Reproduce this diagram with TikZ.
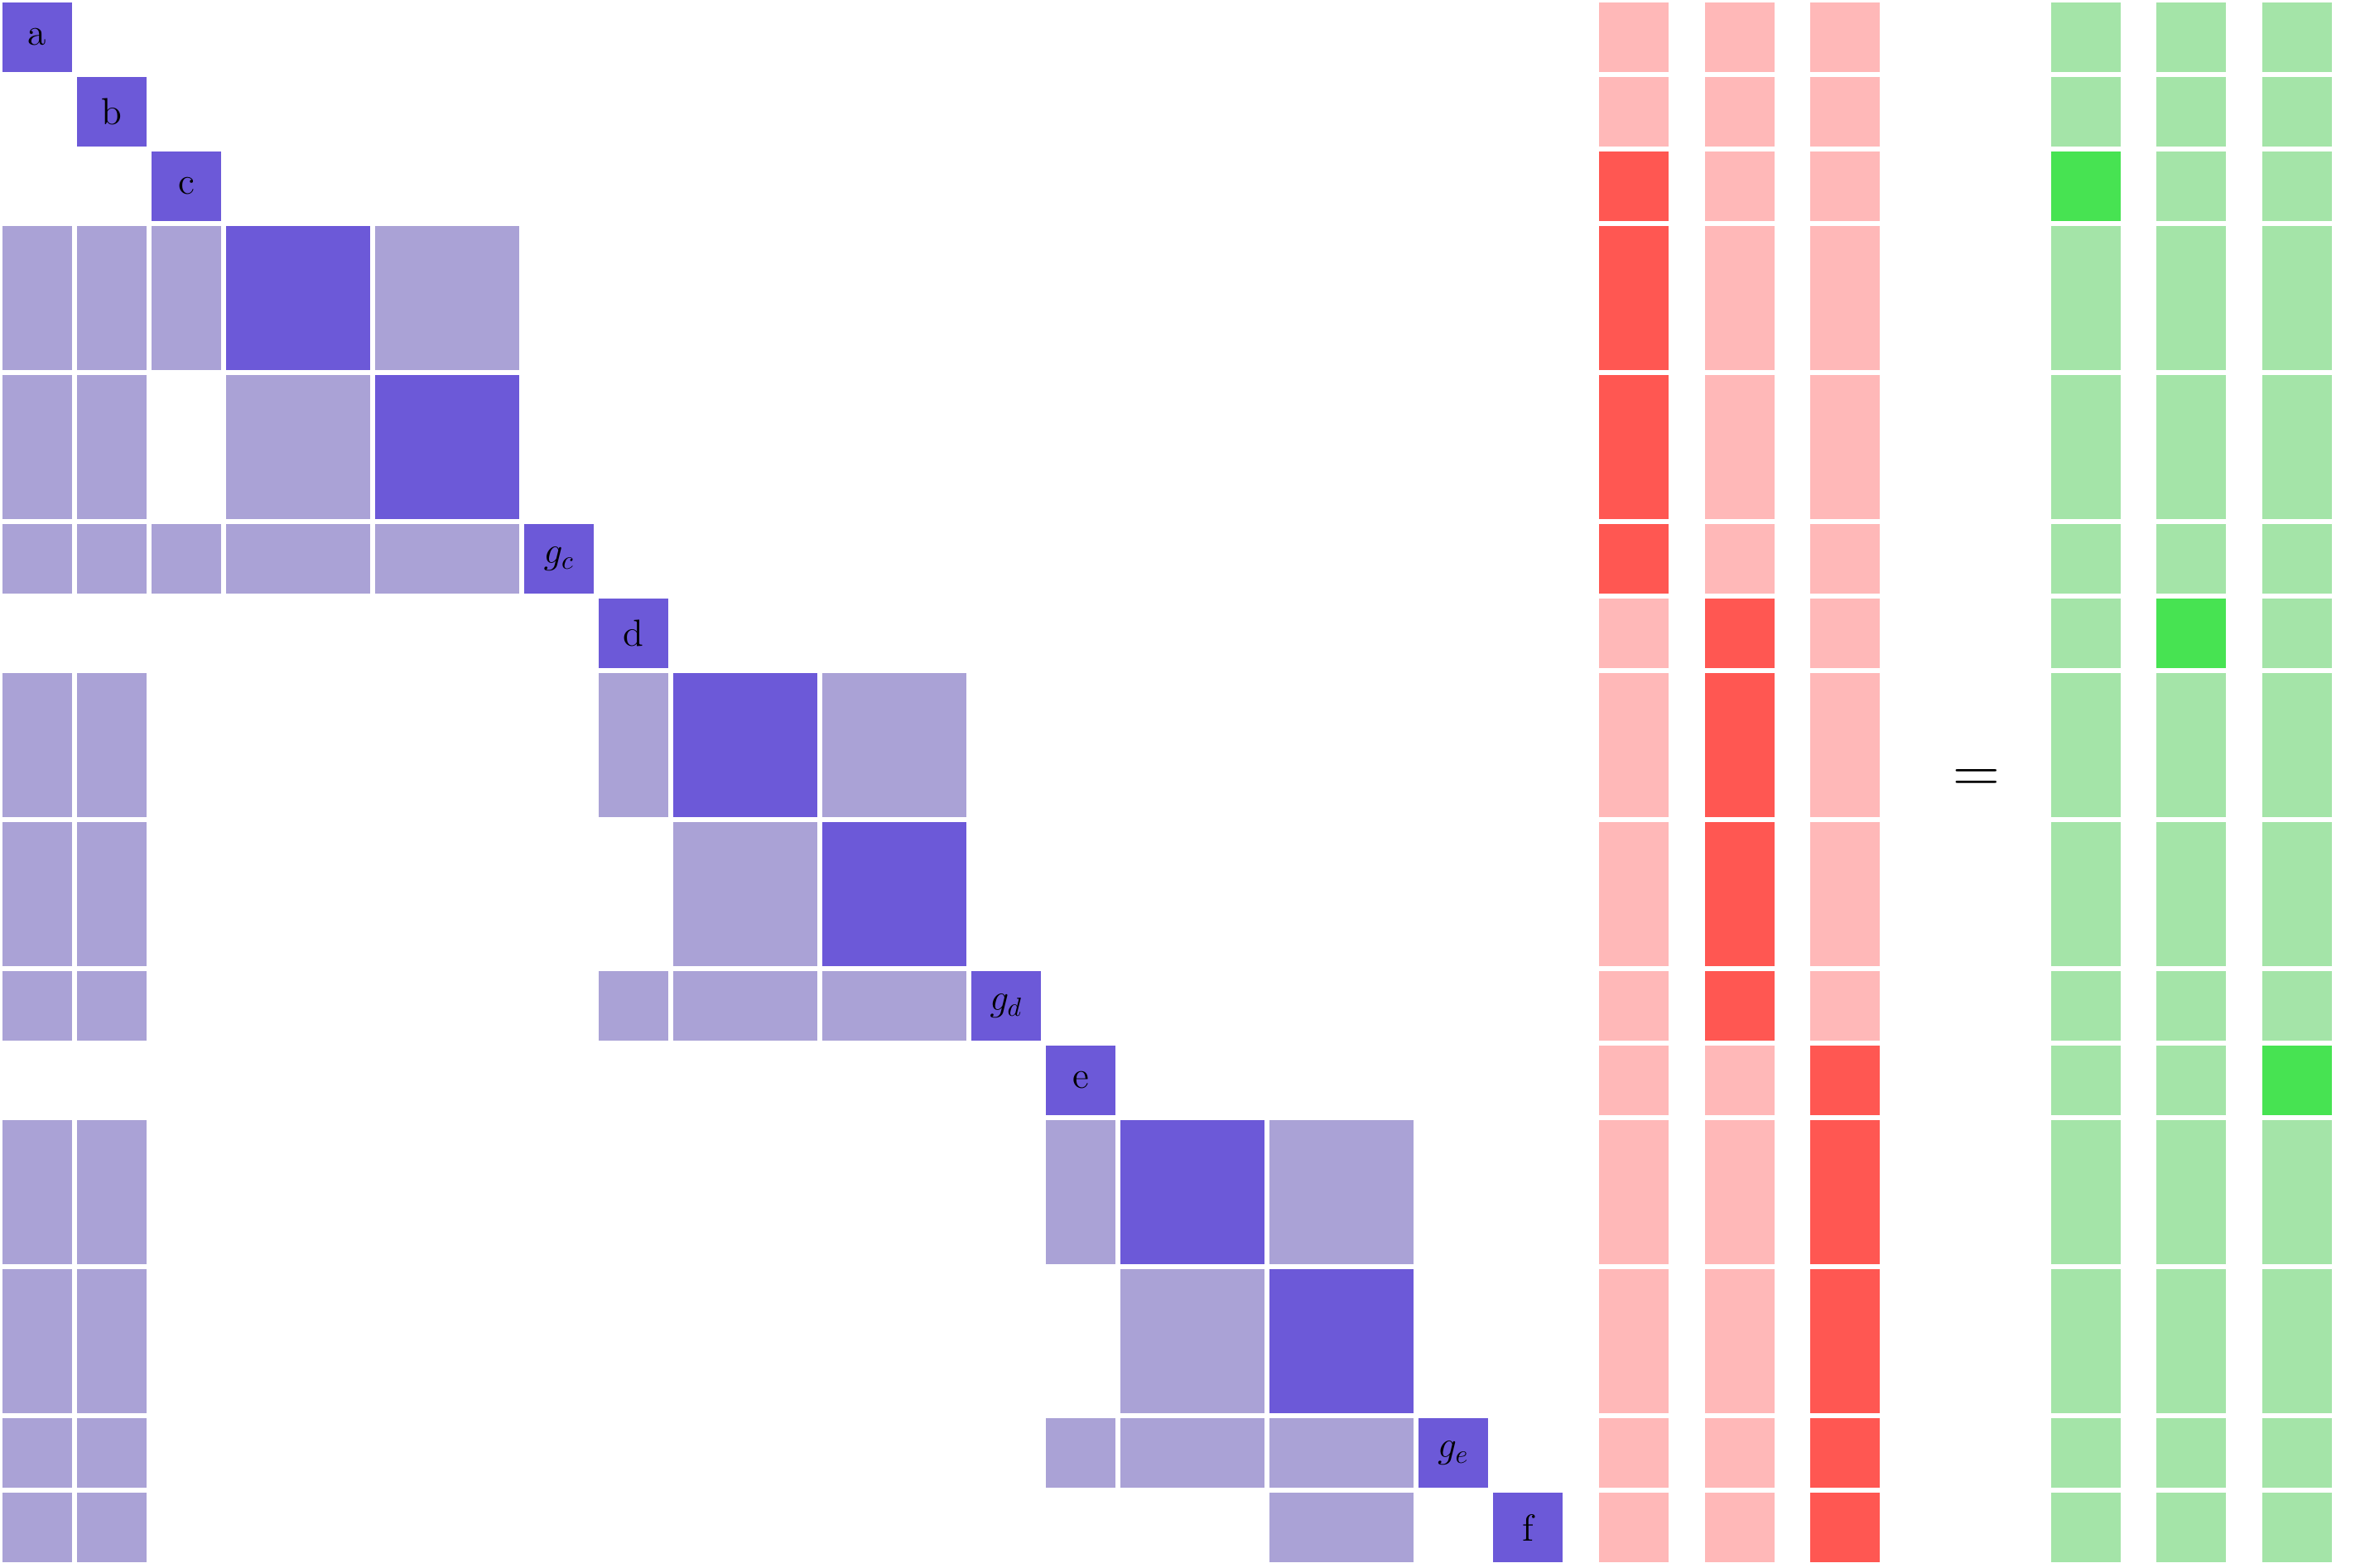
\documentclass[tikz,border=0pt]{standalone}
\usepackage{tikz}
\definecolor{dkblue}{RGB}{108,89,216}
\definecolor{ltblue}{RGB}{170,162,214}
\definecolor{dkred}{RGB}{255,87,82}
\definecolor{ltred}{RGB}{255,184,184}
\definecolor{dkgreen}{RGB}{71,227,82}
\definecolor{ltgreen}{RGB}{164,228,168}
\def\posP{{0,1,2,3,5,7,8,9,11,13,14,15,17,19,20}}
\def\sizeS{{1,1,1,2,2,1,1,2,2,1,1,2,2,1,1}}
\def\gapw{0.0667}
\tikzset{
  cellbase/.style={rectangle, inner sep=0pt, outer sep=0pt, draw=none, font=\Large},
  darkcell/.style={cellbase, fill=dkblue},
  lightcell/.style={cellbase, fill=ltblue},
  redd/.style={cellbase, fill=dkred},
  redl/.style={cellbase, fill=ltred},
  greend/.style={cellbase, fill=dkgreen},
  greenl/.style={cellbase, fill=ltgreen},
}
\newcommand\mc[5]{%
  \pgfmathsetmacro\mcx{\posP[#3-1]+\sizeS[#3-1]/2}%
  \pgfmathsetmacro\mcy{-(\posP[#2-1]+\sizeS[#2-1]/2)}%
  \pgfmathsetmacro\mcw{\sizeS[#3-1]-\gapw}%
  \pgfmathsetmacro\mch{\sizeS[#2-1]-\gapw}%
  \node[#4, minimum width=\mcw cm, minimum height=\mch cm] (#1) at (\mcx,\mcy) {#5};}
\newcommand\vc[4]{%
  \pgfmathsetmacro\mcx{#3+0.5}%
  \pgfmathsetmacro\mcy{-(\posP[#2-1]+\sizeS[#2-1]/2)}%
  \pgfmathsetmacro\mcw{1-\gapw}%
  \pgfmathsetmacro\mch{\sizeS[#2-1]-\gapw}%
  \node[#4, minimum width=\mcw cm, minimum height=\mch cm] (#1) at (\mcx,\mcy) {};}
\begin{document}
\begin{tikzpicture}
\useasboundingbox (0,0) rectangle (31.733,-21.044);
% matrix
\mc{m1-1}{1}{1}{darkcell}{a}
\mc{m2-2}{2}{2}{darkcell}{b}
\mc{m3-3}{3}{3}{darkcell}{c}
\mc{m4-1}{4}{1}{lightcell}{}
\mc{m4-2}{4}{2}{lightcell}{}
\mc{m4-3}{4}{3}{lightcell}{}
\mc{m4-4}{4}{4}{darkcell}{}
\mc{m4-5}{4}{5}{lightcell}{}
\mc{m5-1}{5}{1}{lightcell}{}
\mc{m5-2}{5}{2}{lightcell}{}
\mc{m5-4}{5}{4}{lightcell}{}
\mc{m5-5}{5}{5}{darkcell}{}
\mc{m6-1}{6}{1}{lightcell}{}
\mc{m6-2}{6}{2}{lightcell}{}
\mc{m6-3}{6}{3}{lightcell}{}
\mc{m6-4}{6}{4}{lightcell}{}
\mc{m6-5}{6}{5}{lightcell}{}
\mc{m6-6}{6}{6}{darkcell}{$g_c$}
\mc{m7-7}{7}{7}{darkcell}{d}
\mc{m8-1}{8}{1}{lightcell}{}
\mc{m8-2}{8}{2}{lightcell}{}
\mc{m8-7}{8}{7}{lightcell}{}
\mc{m8-8}{8}{8}{darkcell}{}
\mc{m8-9}{8}{9}{lightcell}{}
\mc{m9-1}{9}{1}{lightcell}{}
\mc{m9-2}{9}{2}{lightcell}{}
\mc{m9-8}{9}{8}{lightcell}{}
\mc{m9-9}{9}{9}{darkcell}{}
\mc{m10-1}{10}{1}{lightcell}{}
\mc{m10-2}{10}{2}{lightcell}{}
\mc{m10-7}{10}{7}{lightcell}{}
\mc{m10-8}{10}{8}{lightcell}{}
\mc{m10-9}{10}{9}{lightcell}{}
\mc{m10-10}{10}{10}{darkcell}{$g_d$}
\mc{m11-11}{11}{11}{darkcell}{e}
\mc{m12-1}{12}{1}{lightcell}{}
\mc{m12-2}{12}{2}{lightcell}{}
\mc{m12-11}{12}{11}{lightcell}{}
\mc{m12-12}{12}{12}{darkcell}{}
\mc{m12-13}{12}{13}{lightcell}{}
\mc{m13-1}{13}{1}{lightcell}{}
\mc{m13-2}{13}{2}{lightcell}{}
\mc{m13-12}{13}{12}{lightcell}{}
\mc{m13-13}{13}{13}{darkcell}{}
\mc{m14-1}{14}{1}{lightcell}{}
\mc{m14-2}{14}{2}{lightcell}{}
\mc{m14-11}{14}{11}{lightcell}{}
\mc{m14-12}{14}{12}{lightcell}{}
\mc{m14-13}{14}{13}{lightcell}{}
\mc{m14-14}{14}{14}{darkcell}{$g_e$}
\mc{m15-1}{15}{1}{lightcell}{}
\mc{m15-2}{15}{2}{lightcell}{}
\mc{m15-13}{15}{13}{lightcell}{}
\mc{m15-15}{15}{15}{darkcell}{f}
% red vectors
\foreach \r/\s in {1/redl,2/redl,3/redd,4/redd,5/redd,6/redd,7/redl,8/redl,9/redl,10/redl,11/redl,12/redl,13/redl,14/redl,15/redl}
  {\vc{ra\r}{\r}{21.42}{\s}}
\foreach \r/\s in {1/redl,2/redl,3/redl,4/redl,5/redl,6/redl,7/redd,8/redd,9/redd,10/redd,11/redl,12/redl,13/redl,14/redl,15/redl}
  {\vc{rb\r}{\r}{22.84}{\s}}
\foreach \r/\s in {1/redl,2/redl,3/redl,4/redl,5/redl,6/redl,7/redl,8/redl,9/redl,10/redl,11/redd,12/redd,13/redd,14/redd,15/redd}
  {\vc{rc\r}{\r}{24.26}{\s}}
% equal sign
\node[inner sep=0pt, font=\Huge] (eq) at (26.52,-10.48) {$=$};
% green vectors
\foreach \r/\s in {1/greenl,2/greenl,3/greend,4/greenl,5/greenl,6/greenl,7/greenl,8/greenl,9/greenl,10/greenl,11/greenl,12/greenl,13/greenl,14/greenl,15/greenl}
  {\vc{ga\r}{\r}{27.49}{\s}}
\foreach \r/\s in {1/greenl,2/greenl,3/greenl,4/greenl,5/greenl,6/greenl,7/greend,8/greenl,9/greenl,10/greenl,11/greenl,12/greenl,13/greenl,14/greenl,15/greenl}
  {\vc{gb\r}{\r}{28.90}{\s}}
\foreach \r/\s in {1/greenl,2/greenl,3/greenl,4/greenl,5/greenl,6/greenl,7/greenl,8/greenl,9/greenl,10/greenl,11/greend,12/greenl,13/greenl,14/greenl,15/greenl}
  {\vc{gc\r}{\r}{30.32}{\s}}
\end{tikzpicture}
\end{document}
